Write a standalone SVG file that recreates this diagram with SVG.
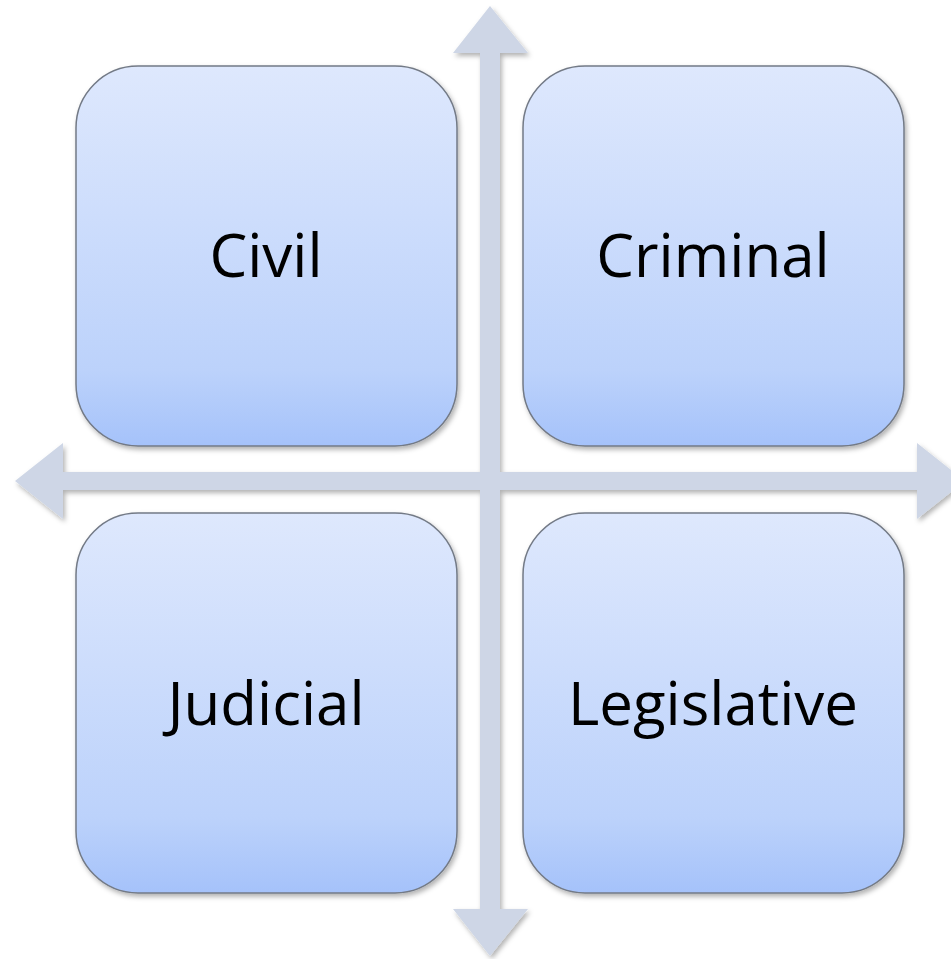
<svg xmlns="http://www.w3.org/2000/svg" width="951" height="959" viewBox="0 0 951 959">
  <defs>
    <linearGradient id="boxGrad" x1="0" y1="0" x2="0" y2="1">
      <stop offset="0" stop-color="#dee8fd"/>
      <stop offset="0.8" stop-color="#bcd2fb"/>
      <stop offset="1" stop-color="#a5c2fa"/>
    </linearGradient>
    <filter id="shadow" x="-10%" y="-10%" width="125%" height="125%">
      <feDropShadow dx="2" dy="3" stdDeviation="2.5" flood-color="#000" flood-opacity="0.3"/>
    </filter>
  </defs>
  <style>
    .box { fill: url(#boxGrad); stroke: #737a86; stroke-width: 1.5; filter: url(#shadow); }
    .arrow { fill: #ced6e6; filter: url(#shadow); }
    .label { font-family: "Open Sans", "Liberation Sans", sans-serif; font-size: 60px; fill: #000; text-anchor: middle; }
  </style>
  <rect width="951" height="959" fill="#ffffff"/>
  <g id="connectors">
    <path class="arrow" d="M15,481 L63,443 L63,472 L480,472 L480,53 L453,53 L490,6 L528,53 L500,53 L500,472 L917,472 L917,443 L965,481 L917,519 L917,490 L500,490 L500,909 L528,909 L490,956 L453,909 L480,909 L480,490 L63,490 L63,519 Z"/>
  </g>
  <g id="civil">
    <rect class="box" x="76" y="66" width="381" height="380" rx="62" ry="62"/>
    <text class="label" x="266" y="277">Civil</text>
  </g>
  <g id="criminal">
    <rect class="box" x="523" y="66" width="381" height="380" rx="62" ry="62"/>
    <text class="label" x="713" y="277">Criminal</text>
  </g>
  <g id="judicial">
    <rect class="box" x="76" y="513" width="381" height="380" rx="62" ry="62"/>
    <text class="label" x="266" y="725">Judicial</text>
  </g>
  <g id="legislative">
    <rect class="box" x="523" y="513" width="381" height="380" rx="62" ry="62"/>
    <text class="label" x="713" y="725">Legislative</text>
  </g>
</svg>
